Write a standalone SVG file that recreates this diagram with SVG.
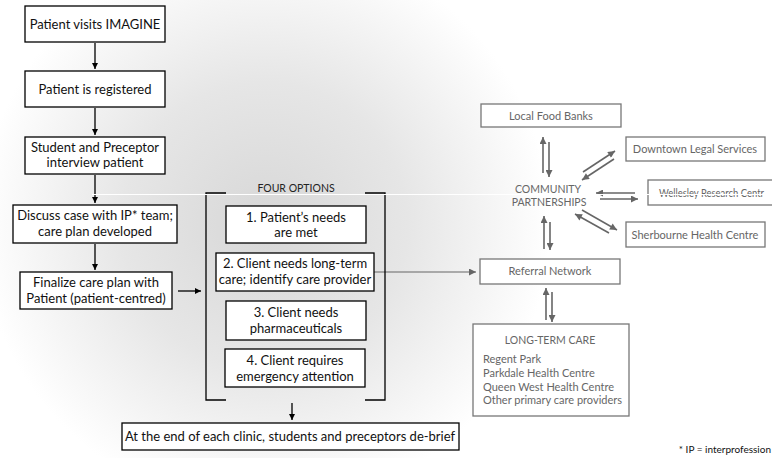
<svg xmlns="http://www.w3.org/2000/svg" width="772" height="458" viewBox="0 0 772 458">
<defs>
<radialGradient id="bg" gradientUnits="userSpaceOnUse" cx="265" cy="225" r="285">
<stop offset="0" stop-color="#d7d7d7"/>
<stop offset="0.5" stop-color="#e6e6e6"/>
<stop offset="1" stop-color="#ffffff"/>
</radialGradient>
<marker id="ab" viewBox="0 0 10 10" refX="10" refY="5" markerWidth="9" markerHeight="6" markerUnits="userSpaceOnUse" orient="auto"><path d="M0,0 L10,5 L0,10 z" fill="#000"/></marker>
<marker id="ag" viewBox="0 0 10 10" refX="10" refY="5" markerWidth="11" markerHeight="7" markerUnits="userSpaceOnUse" orient="auto"><path d="M0,0 L10,5 L0,10 z" fill="#666"/></marker>
</defs>
<style>
.b{fill:#fff;stroke:#000;stroke-width:1.3}
.g{fill:#fff;stroke:#777;stroke-width:1.3}
.t{font-family:Lato,"Open Sans","Liberation Sans",sans-serif;font-size:13px;fill:#111;text-anchor:middle}
.tg{font-family:Lato,"Open Sans","Liberation Sans",sans-serif;font-size:11px;fill:#666;text-anchor:middle}
.tl{font-family:Lato,"Open Sans","Liberation Sans",sans-serif;font-size:11px;fill:#666}
.cb{stroke:#000;stroke-width:1.3;fill:none;marker-end:url(#ab)}
.cg{stroke:#666;stroke-width:1.6;fill:none;marker-end:url(#ag)}
.br{stroke:#000;stroke-width:1.3;fill:none}
</style>
<rect x="0" y="0" width="772" height="458" fill="#fff"/>
<rect x="0" y="0" width="772" height="458" fill="url(#bg)"/>

<g id="connectors">
<line class="cb" x1="95" y1="43" x2="95" y2="69"/>
<line class="cb" x1="95" y1="108" x2="95" y2="135"/>
<line class="cb" x1="95" y1="175" x2="95" y2="203"/>
<line class="cb" x1="95" y1="244" x2="95" y2="270"/>
<line class="cb" x1="178" y1="291" x2="201" y2="291"/>
<line class="cb" x1="292" y1="403" x2="292" y2="420"/>
<line class="cg" x1="374" y1="272" x2="476" y2="272" style="stroke-width:1.2"/>
<line class="cg" x1="543" y1="173" x2="543" y2="137"/>
<line class="cg" x1="549" y1="142" x2="549" y2="177"/>
<line class="cg" x1="544" y1="249" x2="544" y2="216"/>
<line class="cg" x1="550" y1="222" x2="550" y2="250"/>
<line class="cg" x1="546" y1="320" x2="546" y2="288"/>
<line class="cg" x1="552" y1="292" x2="552" y2="322"/>
<line class="cg" x1="583" y1="172" x2="615" y2="151"/>
<line class="cg" x1="614" y1="159" x2="582" y2="180"/>
<line class="cg" x1="635" y1="193" x2="596" y2="193"/>
<line class="cg" x1="600" y1="199" x2="638" y2="199"/>
<line class="cg" x1="609" y1="233" x2="575" y2="214"/>
<line class="cg" x1="582" y1="210" x2="617" y2="230"/>
</g>

<g id="n1"><rect class="b" x="25" y="6" width="140" height="36"/><text class="t" x="95" y="28.5">Patient visits IMAGINE</text></g>
<g id="n2"><rect class="b" x="25" y="71" width="140" height="36"/><text class="t" x="95" y="93.5">Patient is registered</text></g>
<g id="n3"><rect class="b" x="25" y="137" width="140" height="37"/><text class="t" x="95" y="152">Student and Preceptor</text><text class="t" x="95" y="167">interview patient</text></g>
<g id="n4"><rect class="b" x="13" y="205" width="164" height="38"/><text class="t" x="95" y="220">Discuss case with IP* team;</text><text class="t" x="95" y="236">care plan developed</text></g>
<g id="n5"><rect class="b" x="20" y="272" width="152" height="37"/><text class="t" x="96" y="287">Finalize care plan with</text><text class="t" x="96" y="303">Patient (patient-centred)</text></g>

<g id="options">
<path class="br" d="M226,193 H206 V400 H226"/>
<path class="br" d="M365,193 H385 V400 H365"/>
<text class="t" x="296" y="192" style="font-size:10.5px;fill:#222">FOUR OPTIONS</text>
</g>
<g id="o1"><rect class="b" x="226" y="206" width="140" height="37"/><text class="t" x="296" y="222">1. Patient’s needs</text><text class="t" x="296" y="237">are met</text></g>
<g id="o2"><rect class="b" x="216" y="253" width="158" height="38"/><text class="t" x="295" y="268">2. Client needs long-term</text><text class="t" x="295" y="284">care; identify care provider</text></g>
<g id="o3"><rect class="b" x="226" y="301" width="140" height="39"/><text class="t" x="296" y="317">3. Client needs</text><text class="t" x="296" y="333">pharmaceuticals</text></g>
<g id="o4"><rect class="b" x="225" y="349" width="140" height="38"/><text class="t" x="295" y="365">4. Client requires</text><text class="t" x="295" y="381">emergency attention</text></g>
<g id="debrief"><rect class="b" x="122" y="423" width="337" height="27"/><text class="t" x="290" y="441">At the end of each clinic, students and preceptors de-brief</text></g>

<g id="food"><rect class="g" x="481" y="104" width="140" height="23"/><text class="tg" x="551" y="119.5">Local Food Banks</text></g>
<g id="legal"><rect class="g" x="626" y="137" width="139" height="24"/><text class="tg" x="695" y="153">Downtown Legal Services</text></g>
<g id="wellesley"><rect class="g" x="648" y="180" width="140" height="25"/><text class="tl" x="659" y="197" textLength="105" lengthAdjust="spacingAndGlyphs">Wellesley Research Centr</text></g>
<g id="sherbourne"><rect class="g" x="626" y="222" width="139" height="25"/><text class="tg" x="695" y="238.5">Sherbourne Health Centre</text></g>
<g id="community"><text class="tg" x="548" y="193" style="font-size:10.5px">COMMUNITY</text><text class="tg" x="549" y="206" style="font-size:10.5px">PARTNERSHIPS</text></g>
<g id="referral"><rect class="g" x="480" y="259" width="140" height="25"/><text class="tg" x="550" y="275">Referral Network</text></g>
<g id="ltc"><rect class="g" x="473" y="324" width="156" height="92"/>
<text class="tg" x="550" y="344" style="font-size:10.5px">LONG-TERM CARE</text>
<text class="tl" x="483" y="363">Regent Park</text>
<text class="tl" x="483" y="377">Parkdale Health Centre</text>
<text class="tl" x="483" y="391">Queen West Health Centre</text>
<text class="tl" x="483" y="404">Other primary care providers</text>
</g>
<line x1="92" y1="194.5" x2="772" y2="194.5" stroke="#fff" stroke-width="1.2"/>
<text x="771" y="453" style="font-family:Lato,'Open Sans','Liberation Sans',sans-serif;font-size:10px;fill:#111;text-anchor:end">* IP = interprofession</text>
</svg>
